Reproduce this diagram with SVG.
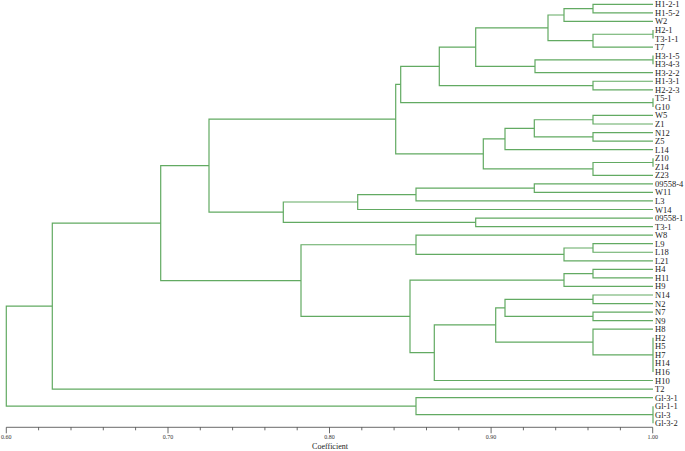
<svg xmlns="http://www.w3.org/2000/svg" width="685" height="451" viewBox="0 0 685 451">
<style>
.b{fill:none;stroke:#62aa62;stroke-width:1.2}
.lb{font-family:"Liberation Serif",serif;font-size:8.5px;fill:#222}
.ax{fill:none;stroke:#444;stroke-width:0.8}
.tk{font-family:"Liberation Serif",serif;font-size:6px;fill:#333;text-anchor:middle}
.tt{font-family:"Liberation Serif",serif;font-size:8px;fill:#222;text-anchor:middle}
</style>
<rect width="685" height="451" fill="#fff"/>
<g id="connectors">
<path class="b" d="M653,4.3 H593 V12.85 H653"/>
<path class="b" d="M593,8.575 H564 V21.4 H653"/>
<path class="b" d="M653,29.95 V38.5"/>
<path class="b" d="M653,34.225 H593 V47.05 H653"/>
<path class="b" d="M564,14.99 H548 V40.64 H593"/>
<path class="b" d="M653,55.6 V64.15"/>
<path class="b" d="M653,59.875 H535 V72.7 H653"/>
<path class="b" d="M548,27.81 H475.7 V66.29 H535"/>
<path class="b" d="M653,81.25 H593 V89.8 H653"/>
<path class="b" d="M475.7,47.05 H439.3 V85.525 H593"/>
<path class="b" d="M653,98.35 V106.9"/>
<path class="b" d="M439.3,66.29 H400.7 V102.625 H653"/>
<path class="b" d="M653,115.45 H593 V124 H653"/>
<path class="b" d="M653,132.55 H593 V141.1 H653"/>
<path class="b" d="M593,119.725 H534.3 V136.825 H593"/>
<path class="b" d="M534.3,128.275 H505 V149.65 H653"/>
<path class="b" d="M653,158.2 V166.75"/>
<path class="b" d="M653,162.475 H593 V175.3 H653"/>
<path class="b" d="M505,138.96 H483.3 V168.89 H593"/>
<path class="b" d="M400.7,84.46 H395.7 V153.92 H483.3"/>
<path class="b" d="M653,183.85 H534.3 V192.4 H653"/>
<path class="b" d="M534.3,188.125 H416 V200.95 H653"/>
<path class="b" d="M416,194.54 H357.7 V209.5 H653"/>
<path class="b" d="M653,218.05 H475.7 V226.6 H653"/>
<path class="b" d="M357.7,202.02 H283.3 V222.325 H475.7"/>
<path class="b" d="M395.7,119.19 H209 V212.17 H283.3"/>
<path class="b" d="M653,243.7 H593 V252.25 H653"/>
<path class="b" d="M593,247.975 H564 V260.8 H653"/>
<path class="b" d="M653,235.15 H416 V254.39 H564"/>
<path class="b" d="M653,269.35 H593 V277.9 H653"/>
<path class="b" d="M593,273.625 H564 V286.45 H653"/>
<path class="b" d="M653,295 H593 V303.55 H653"/>
<path class="b" d="M653,312.1 H593 V320.65 H653"/>
<path class="b" d="M593,299.275 H505 V316.375 H593"/>
<path class="b" d="M653,337.75 V371.95"/>
<path class="b" d="M653,329.2 H593 V354.85 H653"/>
<path class="b" d="M505,307.825 H495.7 V342.025 H593"/>
<path class="b" d="M495.7,324.925 H434.3 V380.5 H653"/>
<path class="b" d="M564,280.04 H410 V352.71 H434.3"/>
<path class="b" d="M416,244.77 H301 V316.375 H410"/>
<path class="b" d="M209,165.68 H160.7 V280.57 H301"/>
<path class="b" d="M160.7,223.13 H52.3 V389.05 H653"/>
<path class="b" d="M653,406.15 V423.25"/>
<path class="b" d="M653,397.6 H416 V414.7 H653"/>
<path class="b" d="M52.3,306.09 H6.3 V406.15 H416"/>
</g>
<g id="leaves" class="lb">
<g id="n0"><text class="lb" x="655" y="7.3">H1-2-1</text></g>
<g id="n1"><text class="lb" x="655" y="15.85">H1-5-2</text></g>
<g id="n2"><text class="lb" x="655" y="24.4">W2</text></g>
<g id="n3"><text class="lb" x="655" y="32.95">H2-1</text></g>
<g id="n4"><text class="lb" x="655" y="41.5">T3-1-1</text></g>
<g id="n5"><text class="lb" x="655" y="50.05">T7</text></g>
<g id="n6"><text class="lb" x="655" y="58.6">H3-1-5</text></g>
<g id="n7"><text class="lb" x="655" y="67.15">H3-4-3</text></g>
<g id="n8"><text class="lb" x="655" y="75.7">H3-2-2</text></g>
<g id="n9"><text class="lb" x="655" y="84.25">H1-3-1</text></g>
<g id="n10"><text class="lb" x="655" y="92.8">H2-2-3</text></g>
<g id="n11"><text class="lb" x="655" y="101.35">T5-1</text></g>
<g id="n12"><text class="lb" x="655" y="109.9">G10</text></g>
<g id="n13"><text class="lb" x="655" y="118.45">W5</text></g>
<g id="n14"><text class="lb" x="655" y="127">Z1</text></g>
<g id="n15"><text class="lb" x="655" y="135.55">N12</text></g>
<g id="n16"><text class="lb" x="655" y="144.1">Z5</text></g>
<g id="n17"><text class="lb" x="655" y="152.65">L14</text></g>
<g id="n18"><text class="lb" x="655" y="161.2">Z10</text></g>
<g id="n19"><text class="lb" x="655" y="169.75">Z14</text></g>
<g id="n20"><text class="lb" x="655" y="178.3">Z23</text></g>
<g id="n21"><text class="lb" x="655" y="186.85">09558-4</text></g>
<g id="n22"><text class="lb" x="655" y="195.4">W11</text></g>
<g id="n23"><text class="lb" x="655" y="203.95">L3</text></g>
<g id="n24"><text class="lb" x="655" y="212.5">W14</text></g>
<g id="n25"><text class="lb" x="655" y="221.05">09558-1</text></g>
<g id="n26"><text class="lb" x="655" y="229.6">T3-1</text></g>
<g id="n27"><text class="lb" x="655" y="238.15">W8</text></g>
<g id="n28"><text class="lb" x="655" y="246.7">L9</text></g>
<g id="n29"><text class="lb" x="655" y="255.25">L18</text></g>
<g id="n30"><text class="lb" x="655" y="263.8">L21</text></g>
<g id="n31"><text class="lb" x="655" y="272.35">H4</text></g>
<g id="n32"><text class="lb" x="655" y="280.9">H11</text></g>
<g id="n33"><text class="lb" x="655" y="289.45">H9</text></g>
<g id="n34"><text class="lb" x="655" y="298">N14</text></g>
<g id="n35"><text class="lb" x="655" y="306.55">N2</text></g>
<g id="n36"><text class="lb" x="655" y="315.1">N7</text></g>
<g id="n37"><text class="lb" x="655" y="323.65">N9</text></g>
<g id="n38"><text class="lb" x="655" y="332.2">H8</text></g>
<g id="n39"><text class="lb" x="655" y="340.75">H2</text></g>
<g id="n40"><text class="lb" x="655" y="349.3">H5</text></g>
<g id="n41"><text class="lb" x="655" y="357.85">H7</text></g>
<g id="n42"><text class="lb" x="655" y="366.4">H14</text></g>
<g id="n43"><text class="lb" x="655" y="374.95">H16</text></g>
<g id="n44"><text class="lb" x="655" y="383.5">H10</text></g>
<g id="n45"><text class="lb" x="655" y="392.05">T2</text></g>
<g id="n46"><text class="lb" x="655" y="400.6">Gl-3-1</text></g>
<g id="n47"><text class="lb" x="655" y="409.15">Gl-1-1</text></g>
<g id="n48"><text class="lb" x="655" y="417.7">Gl-3</text></g>
<g id="n49"><text class="lb" x="655" y="426.25">Gl-3-2</text></g>
</g>
<g id="axis">
<path class="ax" d="M6.3,427.3 H652.7 M6.3,427.3 v6 M38.6,427.3 v3 M71,427.3 v3 M103.3,427.3 v3 M135.6,427.3 v3 M168,427.3 v6 M200.3,427.3 v3 M232.6,427.3 v3 M264.9,427.3 v3 M297.2,427.3 v3 M329.5,427.3 v6 M361.8,427.3 v3 M394.1,427.3 v3 M426.5,427.3 v3 M458.8,427.3 v3 M491.1,427.3 v6 M523.4,427.3 v3 M555.7,427.3 v3 M588,427.3 v3 M620.4,427.3 v3 M652.7,427.3 v6"/>
<text class="tk" x="6.3" y="439">0.60</text>
<text class="tk" x="168" y="439">0.70</text>
<text class="tk" x="329.5" y="439">0.80</text>
<text class="tk" x="491.1" y="439">0.90</text>
<text class="tk" x="652.7" y="439">1.00</text>
<text class="tt" x="330" y="448.5">Coefficient</text>
</g>
</svg>
